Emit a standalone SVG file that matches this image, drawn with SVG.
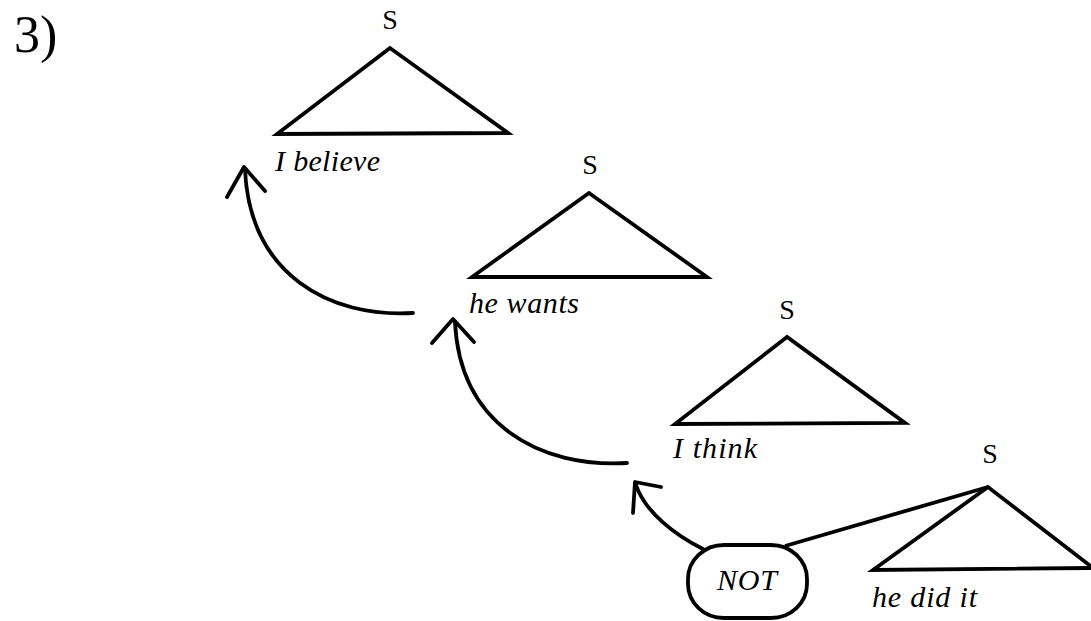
<svg xmlns="http://www.w3.org/2000/svg" width="1091" height="621" viewBox="0 0 1091 621">
<style>
.tri{fill:none;stroke:#000;stroke-width:3.8;stroke-linejoin:miter}
.lbl{font-family:"Liberation Serif",serif;font-size:28px;fill:#000;text-anchor:middle}
.it{font-family:"Liberation Serif",serif;font-style:italic;font-size:30px;fill:#000}
.arc{fill:none;stroke:#000;stroke-width:3.8;stroke-linecap:round}
.head{fill:none;stroke:#000;stroke-width:3.8;stroke-linecap:round;stroke-linejoin:round}
</style>
<rect width="1091" height="621" fill="#fff"/>
<text x="14" y="52" font-family="Liberation Serif, serif" font-size="52" fill="#000">3)</text>
<g id="s1">
<text class="lbl" x="390" y="29">S</text>
<polygon class="tri" points="390,48 277,134 508,133"/>
<text class="it" x="275" y="171" textLength="105" lengthAdjust="spacing">I believe</text>
</g>
<g id="s2">
<text class="lbl" x="590" y="174">S</text>
<polygon class="tri" points="589,193 472,277 707,277"/>
<text class="it" x="469" y="313" textLength="110" lengthAdjust="spacing">he wants</text>
</g>
<g id="s3">
<text class="lbl" x="787" y="319">S</text>
<polygon class="tri" points="787,337 675,424 905,423"/>
<text class="it" x="673" y="458" textLength="84" lengthAdjust="spacing">I think</text>
</g>
<g id="s4">
<text class="lbl" x="990" y="463">S</text>
<polygon class="tri" points="988,487 873,570 1093,568"/>
<text class="it" x="872" y="607" textLength="105" lengthAdjust="spacing">he did it</text>
</g>
<g id="not">
<rect x="688" y="545" width="119" height="73" rx="36" ry="34" fill="#fff" stroke="#000" stroke-width="3.8"/>
<text class="it" x="717" y="590" textLength="60" lengthAdjust="spacing">NOT</text>
</g>
<g id="connectors">
<line x1="785" y1="546" x2="988" y2="487" stroke="#000" stroke-width="3.8"/>
<path class="arc" d="M413,313 C330,318 250,275 245,170"/>
<path class="head" d="M227,197 L244,167 L265,191"/>
<path class="arc" d="M627,463 C540,468 460,425 455,322"/>
<path class="head" d="M432,343 L453,319 L474,342"/>
<path class="arc" d="M703,549 C675,535 645,512 636,485"/>
<path class="head" d="M633,513 L635,482 L661,487"/>
</g>
</svg>
